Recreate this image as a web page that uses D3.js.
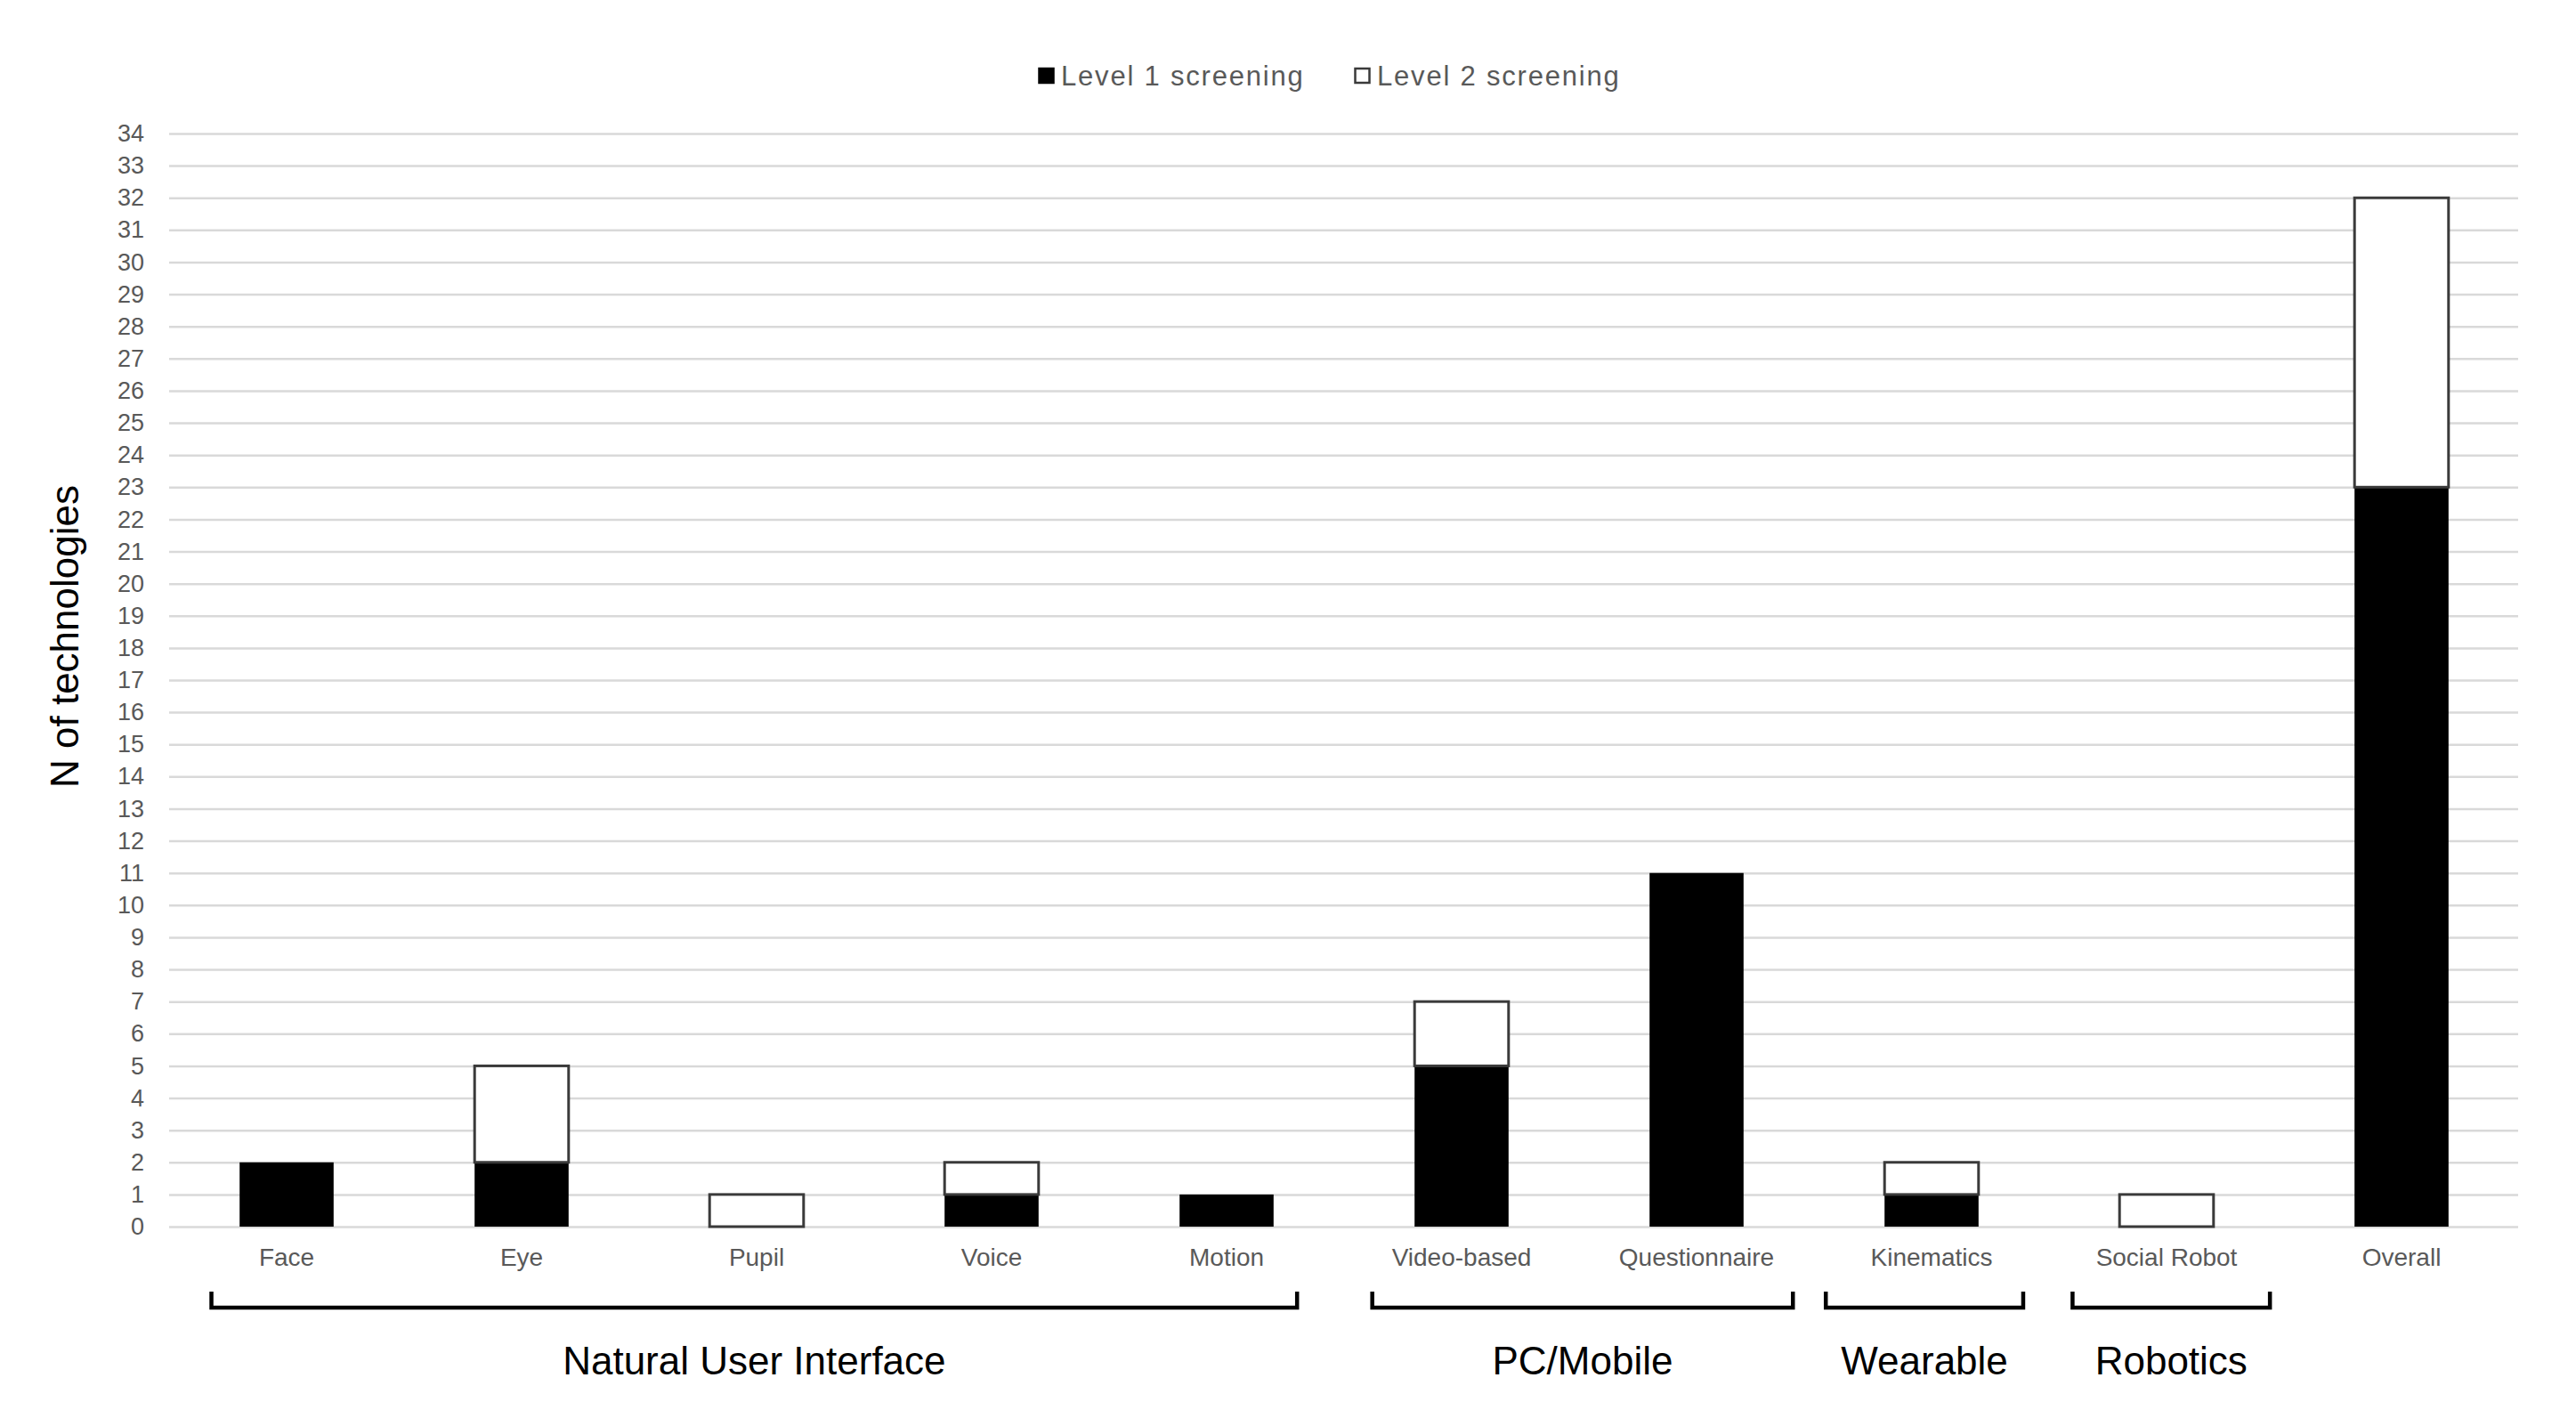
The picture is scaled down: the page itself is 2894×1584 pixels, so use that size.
<!DOCTYPE html>
<html>
<head>
<meta charset="utf-8">
<script src="https://cdn.jsdelivr.net/npm/d3@7"></script>
<style>
  html, body { margin: 0; padding: 0; background: #fff; }
  svg { display: block; font-family: "Liberation Sans", Arial, Helvetica, sans-serif; }
</style>
</head>
<body>
<svg id="chart" width="2894" height="1584"></svg>
<script>
const categories = ["Face", "Eye", "Pupil", "Voice", "Motion", "Video-based", "Questionnaire", "Kinematics", "Social Robot", "Overall"];
const level1 = [2, 2, 0, 1, 1, 5, 11, 1, 0, 23];
const level2 = [0, 3, 1, 1, 0, 2, 0, 1, 1, 9];
const seriesNames = ["Level 1 screening", "Level 2 screening"];
const yTicks = d3.range(0, 35);
const groupNames = ["Natural User Interface", "PC/Mobile", "Wearable", "Robotics"];
const groupFirst = ["Face", "Video-based", "Kinematics", "Social Robot"];
const groupLast = ["Motion", "Questionnaire", "Kinematics", "Social Robot"];
const yTitle = "N of technologies";

(function () {
const svg = d3.select("#chart");
const mLeft = 190, mRight = 2830, mTop = 150, mBottom = 1378;

const x = d3.scaleBand().domain(categories).range([mLeft, mRight]).paddingInner(0.6).paddingOuter(0.3);
const y = d3.scaleLinear().domain([0, 34]).range([mBottom, mTop]);

// gridlines
const grid = svg.append("g").attr("transform", `translate(${mLeft},0)`)
  .call(d3.axisLeft(y).tickValues(yTicks).tickSize(-(mRight - mLeft - 1)).tickFormat(""));
grid.select(".domain").remove();
grid.selectAll("line").attr("stroke", "#d9d9d9").attr("stroke-width", 2.5);

// y axis labels
const yAxis = svg.append("g").attr("transform", `translate(${mLeft},0)`)
  .call(d3.axisLeft(y).tickValues(yTicks).tickSize(0).tickPadding(28).tickFormat(d3.format("d")));
yAxis.select(".domain").remove();
yAxis.selectAll("text").attr("font-size", 27).attr("fill", "#595959")
  .attr("font-family", "'Liberation Sans', Arial, sans-serif");

// bars
const data = categories.map((c, i) => ({ c, l1: level1[i], l2: level2[i] }));
const bw = x.bandwidth();
svg.append("g").selectAll("rect.l1").data(data.filter(d => d.l1 > 0)).join("rect")
  .attr("class", "l1")
  .attr("x", d => x(d.c)).attr("width", bw)
  .attr("y", d => y(d.l1)).attr("height", d => y(0) - y(d.l1))
  .attr("fill", "#000");
svg.append("g").selectAll("rect.l2").data(data.filter(d => d.l2 > 0)).join("rect")
  .attr("class", "l2")
  .attr("x", d => x(d.c)).attr("width", bw)
  .attr("y", d => y(d.l1 + d.l2)).attr("height", d => y(d.l1) - y(d.l1 + d.l2))
  .attr("fill", "#fff").attr("stroke", "#3a3a3a").attr("stroke-width", 3);

// x axis labels
const xAxis = svg.append("g").attr("transform", `translate(0,${mBottom})`)
  .call(d3.axisBottom(x).tickSize(0).tickPadding(24));
xAxis.select(".domain").remove();
xAxis.selectAll("text").attr("font-size", 28).attr("fill", "#595959")
  .attr("font-family", "'Liberation Sans', Arial, sans-serif");

// group brackets (extent beyond first/last bar centre, in band steps)
const step = x.step();
const extL = [0.32, 0.38, 0.45, 0.40];
const extR = [0.30, 0.41, 0.39, 0.44];
const bTop = 1451, bBot = 1469;
groupNames.forEach((g, i) => {
  const x0 = x(groupFirst[i]) + bw / 2 - step * extL[i];
  const x1 = x(groupLast[i]) + bw / 2 + step * extR[i];
  svg.append("path")
    .attr("d", `M${x0},${bTop} L${x0},${bBot} L${x1},${bBot} L${x1},${bTop}`)
    .attr("fill", "none").attr("stroke", "#000").attr("stroke-width", 4.5);
  svg.append("text")
    .attr("x", (x0 + x1) / 2).attr("y", 1544)
    .attr("text-anchor", "middle")
    .attr("font-size", 44).attr("fill", "#000")
    .text(g);
});

// y title
svg.append("text")
  .attr("transform", `translate(88,715) rotate(-90)`)
  .attr("text-anchor", "middle")
  .attr("font-size", 44).attr("fill", "#000")
  .text(yTitle);

// legend
const legend = svg.append("g");
const legX = [1166, 1521];
seriesNames.forEach((s, i) => {
  legend.append("rect")
    .attr("x", legX[i] + 1.5).attr("y", 77).attr("width", 16).attr("height", 16)
    .attr("fill", i === 0 ? "#000" : "#fff")
    .attr("stroke", i === 0 ? "#000" : "#3a3a3a").attr("stroke-width", 2.5);
  legend.append("text")
    .attr("x", legX[i] + 26).attr("y", 96)
    .attr("font-size", 31).attr("fill", "#595959")
    .attr("letter-spacing", 1.8)
    .text(s);
});
})();
</script>
</body>
</html>
